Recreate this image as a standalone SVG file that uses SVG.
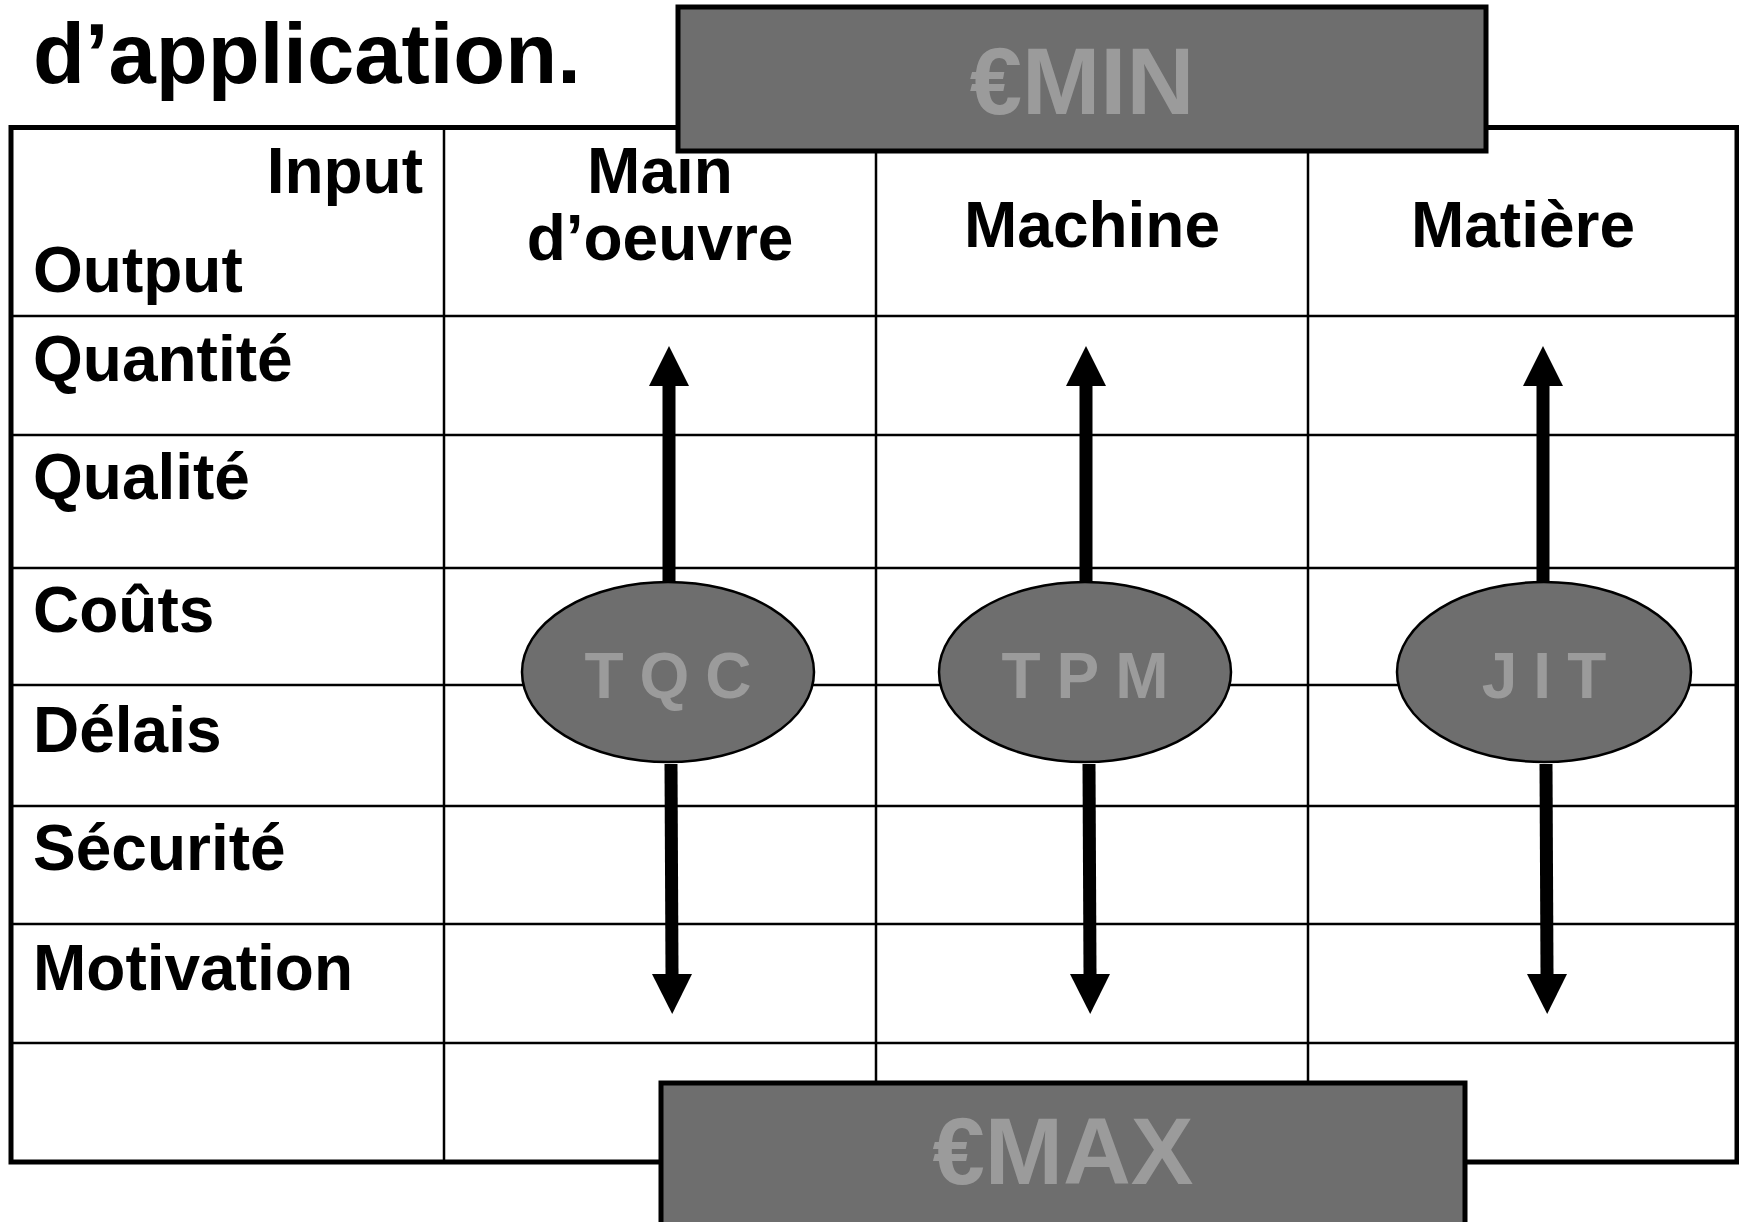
<svg xmlns="http://www.w3.org/2000/svg" width="1739" height="1222" viewBox="0 0 1739 1222">
<style>
.t{font-family:"Liberation Sans",Arial,sans-serif;font-weight:bold;fill:#000;font-size:64px}
.title{font-size:85px}
.c{text-anchor:middle}
.grid{stroke:#000;stroke-width:2.5;fill:none}
.outer{stroke:#000;stroke-width:5;fill:none}
.box{fill:#6e6e6e;stroke:#000;stroke-width:5}
.boxt{font-family:"Liberation Sans",Arial,sans-serif;font-weight:bold;fill:#9b9b9b;font-size:94px;text-anchor:middle}
.ell{fill:#6e6e6e;stroke:#000;stroke-width:2.5}
.ellt{font-family:"Liberation Sans",Arial,sans-serif;font-weight:bold;fill:#9b9b9b;font-size:64px;text-anchor:middle;letter-spacing:16px}
.arr{stroke:#000;stroke-width:13;fill:none;marker-end:url(#ah)}
</style>
<defs>
<marker id="ah" markerUnits="userSpaceOnUse" markerWidth="40" markerHeight="40" refX="0" refY="20" orient="auto" overflow="visible">
<path d="M0,0 L40,20 L0,40 Z" fill="#000"/>
</marker>
</defs>
<rect width="1739" height="1222" fill="#fff"/>
<text class="t title" x="33" y="83">d’application.</text>
<g id="table">
<line class="grid" x1="11" y1="316" x2="1737" y2="316"/>
<line class="grid" x1="11" y1="435" x2="1737" y2="435"/>
<line class="grid" x1="11" y1="568" x2="1737" y2="568"/>
<line class="grid" x1="11" y1="685" x2="1737" y2="685"/>
<line class="grid" x1="11" y1="806" x2="1737" y2="806"/>
<line class="grid" x1="11" y1="924" x2="1737" y2="924"/>
<line class="grid" x1="11" y1="1043" x2="1737" y2="1043"/>
<line class="grid" x1="444" y1="127" x2="444" y2="1162"/>
<line class="grid" x1="876" y1="127" x2="876" y2="1162"/>
<line class="grid" x1="1308" y1="127" x2="1308" y2="1162"/>
<rect class="outer" x="11" y="127.5" width="1726" height="1034.5"/>
<text class="t" x="423" y="193" text-anchor="end">Input</text>
<text class="t" x="33" y="292">Output</text>
<text class="t c" x="660" y="193">Main</text>
<text class="t c" x="660" y="260">d’oeuvre</text>
<text class="t c" x="1092" y="247">Machine</text>
<text class="t c" x="1523" y="247">Matière</text>
<text class="t" x="33" y="381">Quantité</text>
<text class="t" x="33" y="499">Qualité</text>
<text class="t" x="33" y="632">Coûts</text>
<text class="t" x="33" y="752">Délais</text>
<text class="t" x="33" y="870">Sécurité</text>
<text class="t" x="33" y="990">Motivation</text>
</g>
<g id="connectors">
<path class="arr" d="M669,590 L669,386"/>
<path class="arr" d="M671,764 L672,974"/>
<path class="arr" d="M1086,590 L1086,386"/>
<path class="arr" d="M1089,764 L1090,974"/>
<path class="arr" d="M1543,590 L1543,386"/>
<path class="arr" d="M1546,764 L1547,974"/>
</g>
<g id="tqc">
<ellipse class="ell" cx="668" cy="672" rx="146" ry="90"/>
<text class="ellt" x="676" y="698">TQC</text>
</g>
<g id="tpm">
<ellipse class="ell" cx="1085" cy="672" rx="146" ry="90"/>
<text class="ellt" x="1093" y="698">TPM</text>
</g>
<g id="jit">
<ellipse class="ell" cx="1544" cy="672" rx="147" ry="90"/>
<text class="ellt" x="1552" y="698">JIT</text>
</g>
<g id="min">
<rect class="box" x="678" y="7" width="808" height="144"/>
<text class="boxt" x="1082" y="114">€MIN</text>
</g>
<g id="max">
<rect class="box" x="661" y="1083" width="804" height="160"/>
<text class="boxt" x="1063" y="1184">€MAX</text>
</g>
</svg>
